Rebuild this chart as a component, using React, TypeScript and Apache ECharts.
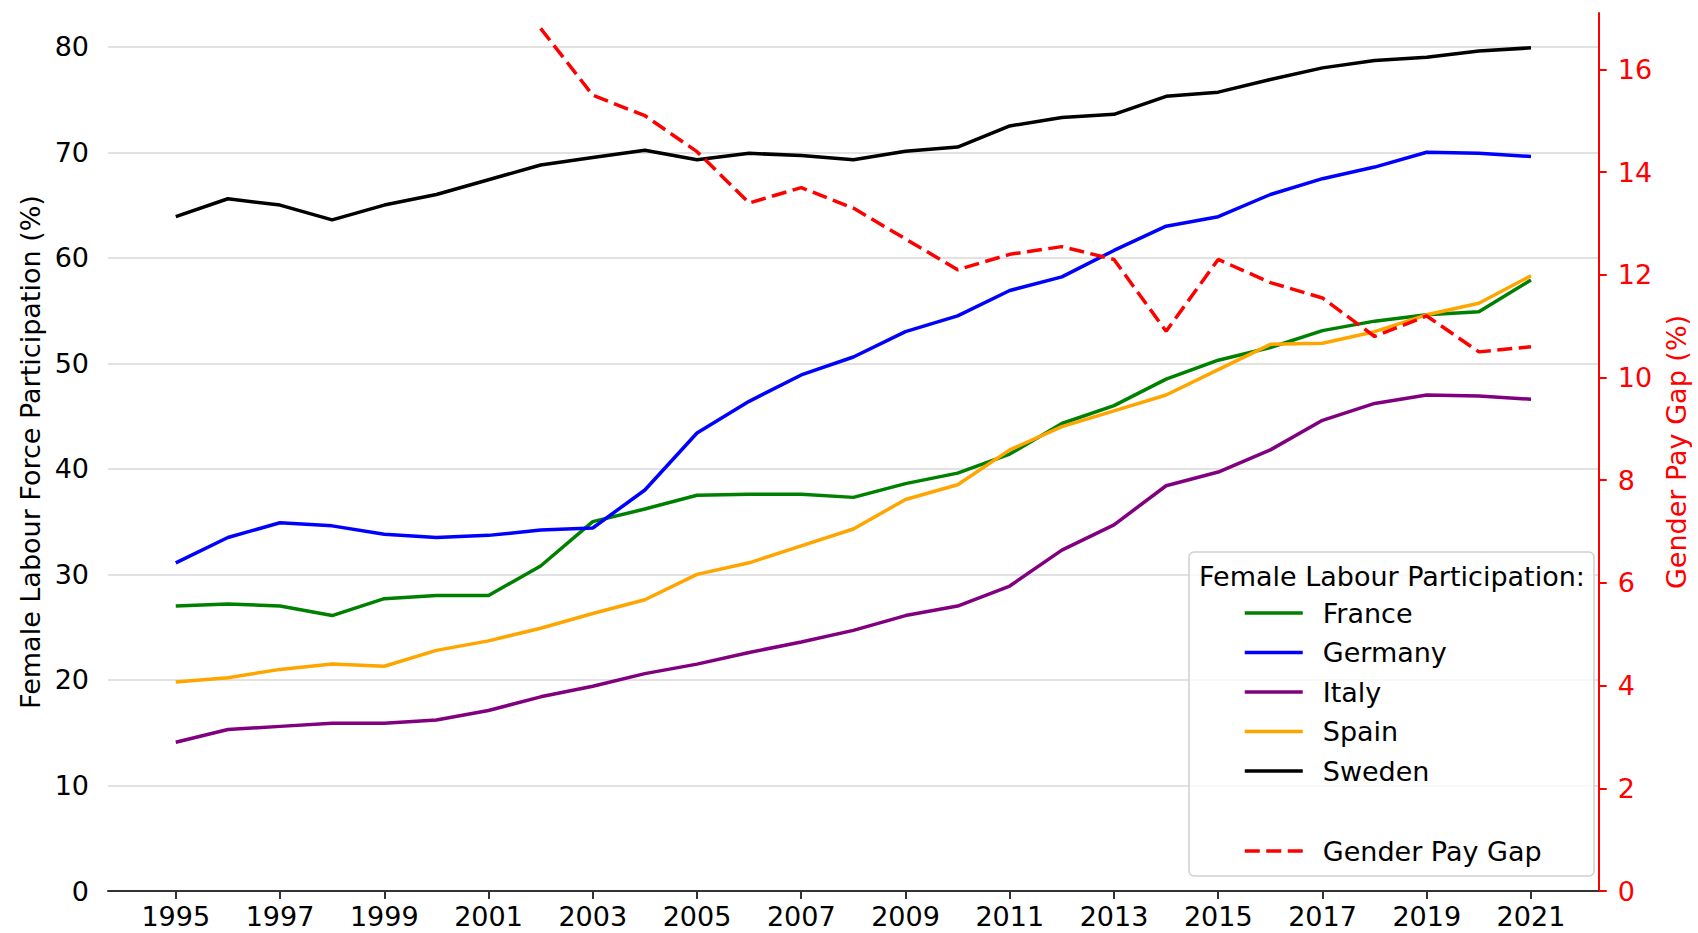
import React, { useEffect, useRef } from 'react';
import * as echarts from 'echarts';

const years = [1995, 1996, 1997, 1998, 1999, 2000, 2001, 2002, 2003, 2004, 2005, 2006, 2007, 2008, 2009, 2010, 2011, 2012, 2013, 2014, 2015, 2016, 2017, 2018, 2019, 2020, 2021];
const france = [27.0, 27.2, 27.0, 26.1, 27.7, 28.0, 28.0, 30.8, 35.0, 36.2, 37.5, 37.6, 37.6, 37.3, 38.6, 39.6, 41.4, 44.3, 46.0, 48.5, 50.3, 51.5, 53.1, 54.0, 54.6, 54.9, 57.9];
const germany = [31.1, 33.5, 34.9, 34.6, 33.8, 33.5, 33.7, 34.2, 34.4, 38.0, 43.4, 46.4, 48.9, 50.6, 53.0, 54.5, 56.9, 58.2, 60.7, 63.0, 63.9, 66.0, 67.5, 68.6, 70.0, 69.9, 69.6];
const italy = [14.1, 15.3, 15.6, 15.9, 15.9, 16.2, 17.1, 18.4, 19.4, 20.6, 21.5, 22.6, 23.6, 24.7, 26.1, 27.0, 28.9, 32.3, 34.7, 38.4, 39.7, 41.8, 44.6, 46.2, 47.0, 46.9, 46.6];
const spain = [19.8, 20.2, 21.0, 21.5, 21.3, 22.8, 23.7, 24.9, 26.3, 27.6, 30.0, 31.1, 32.7, 34.3, 37.1, 38.5, 41.8, 44.0, 45.5, 47.0, 49.4, 51.8, 51.9, 53.0, 54.6, 55.7, 58.3];
const sweden = [63.9, 65.6, 65.0, 63.6, 65.0, 66.0, 67.4, 68.8, 69.5, 70.2, 69.3, 69.9, 69.7, 69.3, 70.1, 70.5, 72.5, 73.3, 73.6, 75.3, 75.7, 76.9, 78.0, 78.7, 79.0, 79.6, 79.9];
const payGapYears = [2002, 2003, 2004, 2005, 2006, 2007, 2008, 2009, 2010, 2011, 2012, 2013, 2014, 2015, 2016, 2017, 2018, 2019, 2020, 2021];
const payGap = [16.8, 15.5, 15.1, 14.4, 13.4, 13.7, 13.3, 12.7, 12.1, 12.4, 12.55, 12.3, 10.9, 12.3, 11.85, 11.55, 10.8, 11.2, 10.5, 10.6];

const yearTicks = [1995, 1997, 1999, 2001, 2003, 2005, 2007, 2009, 2011, 2013, 2015, 2017, 2019, 2021];
const leftTicks = [0, 10, 20, 30, 40, 50, 60, 70, 80];
const rightTicks = [0, 2, 4, 6, 8, 10, 12, 14, 16];

const countries = [
  { name: 'France', values: france, color: '#008000' },
  { name: 'Germany', values: germany, color: '#0000ff' },
  { name: 'Italy', values: italy, color: '#800080' },
  { name: 'Spain', values: spain, color: '#ffa500' },
  { name: 'Sweden', values: sweden, color: '#000000' },
];

const FONT = 'DejaVu Sans';
const FS = 27;

export default function App() {
  const ref = useRef<HTMLDivElement>(null);
  useEffect(() => {
    if (!ref.current) return;
    const chart = echarts.init(ref.current, null, { renderer: 'svg' });
    const series: any[] = countries.map((c) => ({
      name: c.name,
      type: 'line',
      yAxisIndex: 0,
      symbol: 'none',
      data: years.map((y, i) => [y, c.values[i]]),
      lineStyle: { color: c.color, width: 3.5 },
      itemStyle: { color: c.color },
      z: 3,
    }));
    series.push({
      name: 'Gender Pay Gap',
      type: 'line',
      yAxisIndex: 1,
      symbol: 'none',
      data: payGapYears.map((y, i) => [y, payGap[i]]),
      lineStyle: { color: '#ff0000', width: 3.5, type: [15, 6.5] },
      itemStyle: { color: '#ff0000' },
      z: 4,
    });
    const legendText = { fontFamily: FONT, fontSize: FS, color: '#000', lineHeight: 28, padding: [0, 0, 0, 15] };
    const legendCommon = {
      orient: 'vertical',
      left: 1243,
      padding: 0,
      itemWidth: 58,
      itemHeight: 14,
      selectedMode: false,
      textStyle: legendText,
      itemStyle: { opacity: 0 },
      lineStyle: { width: 3.5 },
      z: 8,
    };
    chart.setOption({
      animation: false,
      backgroundColor: '#ffffff',
      textStyle: { fontFamily: FONT },
      grid: { left: 108, right: 91, top: 13, bottom: 42, containLabel: false },
      xAxis: {
        type: 'value',
        min: 1993.7,
        max: 2022.3,
        axisLine: { show: true, lineStyle: { color: '#333', width: 2 } },
        axisTick: { show: true, length: 8, customValues: yearTicks, lineStyle: { color: '#333', width: 2 } },
        axisLabel: { customValues: yearTicks, formatter: (v: number) => String(v), fontSize: FS, color: '#000', margin: 12, fontFamily: FONT },
        splitLine: { show: false },
      },
      yAxis: [
        {
          type: 'value',
          min: 0,
          max: 83.2,
          interval: 10,
          position: 'left',
          name: 'Female Labour Force Participation (%)',
          nameLocation: 'middle',
          nameGap: 62,
          nameTextStyle: { fontSize: FS, color: '#000', fontFamily: FONT },
          axisLine: { show: false },
          axisTick: { show: false },
          axisLabel: { customValues: leftTicks, fontSize: FS, color: '#000', margin: 19, fontFamily: FONT },
          splitLine: { show: true, showMaxLine: false, lineStyle: { color: '#d9d9d9', width: 1.5 } },
        },
        {
          type: 'value',
          min: 0,
          max: 17.1,
          interval: 2,
          position: 'right',
          name: 'Gender Pay Gap (%)',
          nameLocation: 'middle',
          nameGap: 63,
          nameRotate: 90,
          nameTextStyle: { fontSize: FS, color: '#ff0000', fontFamily: FONT },
          axisLine: { show: true, lineStyle: { color: '#ff0000', width: 2 } },
          axisTick: { show: true, length: 8, customValues: rightTicks, lineStyle: { color: '#ff0000', width: 2 } },
          axisLabel: { customValues: rightTicks, fontSize: FS, color: '#ff0000', margin: 19, fontFamily: FONT },
          splitLine: { show: false },
        },
      ],
      legend: [
        { ...legendCommon, data: countries.map((c) => c.name), top: 599, itemGap: 11.5 },
        { ...legendCommon, data: ['Gender Pay Gap'], top: 837 },
      ],
      graphic: [
        {
          type: 'rect',
          z: 6,
          shape: { x: 1189, y: 552, width: 405, height: 324, r: 5 },
          style: { fill: 'rgba(255,255,255,0.8)', stroke: '#d0d0d0', lineWidth: 1.5 },
        },
        {
          type: 'text',
          z: 7,
          x: 1199,
          y: 576,
          style: { text: 'Female Labour Participation:', fontSize: FS, fontFamily: FONT, fill: '#000', verticalAlign: 'middle', align: 'left' },
        },
      ],
      series,
    });
    return () => chart.dispose();
  }, []);
  return <div ref={ref} style={{ position: 'absolute', left: 0, top: 0, width: 1698, height: 933 }} />;
}
